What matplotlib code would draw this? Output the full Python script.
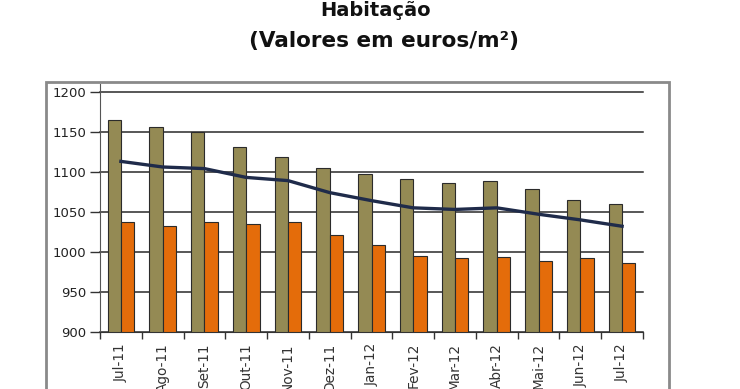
import matplotlib.pyplot as plt
from matplotlib.patches import Rectangle
import numpy as np

meses = ["Jul-11", "Ago-11", "Set-11", "Out-11", "Nov-11", "Dez-11", "Jan-12",
         "Fev-12", "Mar-12", "Abr-12", "Mai-12", "Jun-12", "Jul-12"]
serie_a = [1165, 1156, 1150, 1131, 1119, 1105, 1097, 1091, 1086, 1088, 1078, 1065, 1060]
serie_b = [1037, 1032, 1037, 1035, 1037, 1021, 1008, 995, 992, 994, 989, 992, 986]
media = [1113, 1106, 1104, 1093, 1089, 1074, 1064, 1055, 1053, 1055, 1047, 1040, 1032]

fig = plt.figure(figsize=(7.4, 3.89), dpi=100)

# moldura cinzenta do grafico
fig.patches.append(Rectangle((46/740, -0.05), (669-46)/740, 1.05 - 82/389,
                             transform=fig.transFigure, fill=False,
                             edgecolor="#8a8a8a", linewidth=2))

ax = fig.add_axes([100/740, 57/389, 543/740, 240.3/389])

x = np.arange(len(meses))
w = 0.32
ax.bar(x - w/2, serie_a, w, color="#948a54", edgecolor="#2b2b2b", linewidth=0.8, zorder=2)
ax.bar(x + w/2, serie_b, w, color="#e46c0a", edgecolor="#2b2b2b", linewidth=0.8, zorder=2)
ax.plot(x, media, color="#1f2b4a", linewidth=2.4, zorder=3)

ax.set_ylim(900, 1200)
ax.set_xlim(-0.5, len(meses) - 0.5)
ax.set_yticks(range(900, 1201, 50))
ax.grid(axis="y", color="#2a2a2a", linewidth=1.1, zorder=1)
for gl in ax.get_ygridlines():
    gl.set_clip_on(False)

ax.set_xticks(x)
ax.set_xticklabels(meses, rotation=90, fontsize=9.8, color="#333333")
ax.tick_params(axis="x", which="major", length=0, pad=8)
ax.set_xticks(np.arange(-0.5, len(meses), 1), minor=True)
ax.tick_params(axis="x", which="minor", length=5, width=1, color="#333333", direction="out")
ax.tick_params(axis="y", length=7, width=1, color="#333333", labelsize=9.5, labelcolor="#222222", pad=3)

for s in ["top", "right"]:
    ax.spines[s].set_visible(False)
ax.spines["left"].set_color("#555555")
ax.spines["bottom"].set_color("#333333")
ax.spines["left"].set_bounds(900, 1210)
ax.spines["left"].set_clip_on(False)

fig.text(376/740, 1 - 11/389, "Habitação", ha="center", va="center",
         fontsize=14, fontweight="bold", color="#111111")
fig.text(384/740, 1 - 41/389, "(Valores em euros/m²)", ha="center", va="center",
         fontsize=15.5, fontweight="bold", color="#111111")

plt.savefig("out.png", dpi=100)
